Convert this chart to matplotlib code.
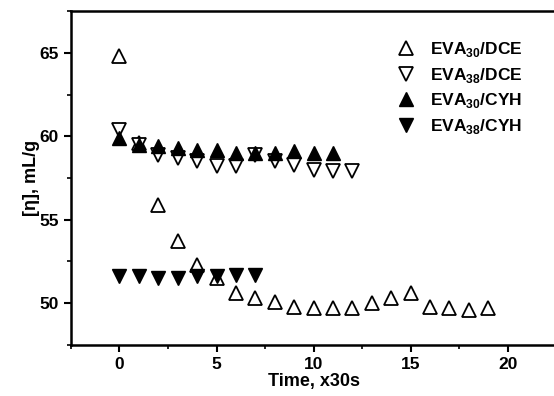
import matplotlib
matplotlib.use("Agg")
import matplotlib.pyplot as plt
from matplotlib.ticker import MultipleLocator

plt.rcParams['font.family'] = ['Liberation Sans', 'DejaVu Sans']
plt.rcParams['font.weight'] = 'bold'
plt.rcParams['axes.labelweight'] = 'bold'
plt.rcParams['mathtext.fontset'] = 'custom'
plt.rcParams['mathtext.rm'] = 'Liberation Sans:bold'
plt.rcParams['mathtext.bf'] = 'Liberation Sans:bold'

# EVA30/DCE
t_30dce = list(range(20))
eta_30dce = [64.8, 59.6, 55.9, 53.7, 52.3, 51.5, 50.6, 50.3, 50.1, 49.8,
             49.7, 49.7, 49.7, 50.0, 50.3, 50.6, 49.8, 49.7, 49.6, 49.7]
# EVA38/DCE
t_38dce = list(range(13))
eta_38dce = [60.4, 59.5, 58.9, 58.7, 58.5, 58.2, 58.2, 58.9, 58.5, 58.3, 58.0, 57.9, 57.9]
# EVA30/CYH
t_30cyh = list(range(12))
eta_30cyh = [59.9, 59.5, 59.4, 59.3, 59.2, 59.2, 59.0, 59.0, 59.0, 59.1, 59.0, 59.0]
# EVA38/CYH
t_38cyh = list(range(8))
eta_38cyh = [51.6, 51.6, 51.5, 51.5, 51.6, 51.6, 51.7, 51.7]

fig = plt.figure(figsize=(5.54, 3.96), dpi=100)
ax = fig.add_axes([0.128, 0.129, 0.876, 0.843])

ms = 9.5
ax.plot(t_30dce, eta_30dce, '^', ms=ms, mfc='white', mec='black', mew=1.3, ls='none',
        label=r'EVA$_{30}$/DCE')
ax.plot(t_38dce, eta_38dce, 'v', ms=ms, mfc='white', mec='black', mew=1.3, ls='none',
        label=r'EVA$_{38}$/DCE')
ax.plot(t_30cyh, eta_30cyh, '^', ms=ms, color='black', ls='none',
        label=r'EVA$_{30}$/CYH')
ax.plot(t_38cyh, eta_38cyh, 'v', ms=ms, color='black', ls='none',
        label=r'EVA$_{38}$/CYH')

ax.set_xlim(-2.5, 22.5)
ax.set_ylim(47.5, 67.5)
ax.xaxis.set_major_locator(MultipleLocator(5))
ax.xaxis.set_minor_locator(MultipleLocator(2.5))
ax.yaxis.set_major_locator(MultipleLocator(5))
ax.yaxis.set_minor_locator(MultipleLocator(2.5))
ax.tick_params(which='major', direction='out', length=5, width=1.5, labelsize=12.5)
ax.tick_params(which='minor', direction='out', length=3, width=1.2)
for lab in ax.get_xticklabels() + ax.get_yticklabels():
    lab.set_fontweight('bold')
for s in ['left', 'bottom', 'top']:
    ax.spines[s].set_linewidth(1.8)
ax.spines['right'].set_visible(False)

ax.set_xlabel('Time, x30s', fontsize=13, fontweight='bold', labelpad=1)
ax.set_ylabel('[η], mL/g', fontsize=13, fontweight='bold', labelpad=0)

ax.legend(loc='upper left', bbox_to_anchor=(0.637, 0.96), frameon=False,
          prop={'size': 12.5, 'weight': 'bold'},
          handletextpad=0.8, labelspacing=0.38, handlelength=1.2)

fig.savefig('out.png', dpi=100)
